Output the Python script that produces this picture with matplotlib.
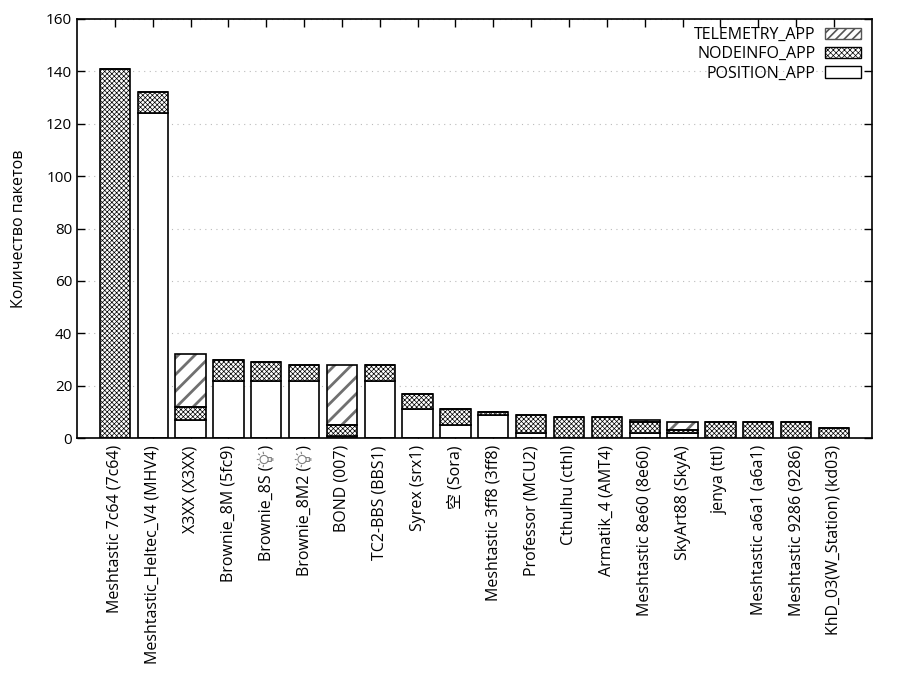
import numpy as np
import matplotlib
matplotlib.use("Agg")
import matplotlib.pyplot as plt
from matplotlib.patches import Patch
from matplotlib.lines import Line2D
from matplotlib.path import Path
from matplotlib.transforms import IdentityTransform, Affine2D

plt.rcParams['font.family'] = ['Open Sans', 'Noto Sans CJK SC', 'DejaVu Sans']
plt.rcParams['font.size'] = 11

BULB = "\u2003"  # placeholder; the light bulb sign is drawn as a shape below

# node names as shown on the x axis
names = ["Meshtastic 7c64 (7c64)", "Meshtastic_Heltec_V4 (MHV4)", "X3XX (X3XX)",
         "Brownie_8M (5fc9)", "Brownie_8S (" + BULB + ")", "Brownie_8M2 (" + BULB + ")",
         "BOND (007)", "TC2-BBS (BBS1)", "Syrex (srx1)", "空 (Sora)",
         "Meshtastic 3ff8 (3ff8)", "Professor (MCU2)", "Cthulhu (cthl)",
         "Armatik_4 (AMT4)", "Meshtastic 8e60 (8e60)", "SkyArt88 (SkyA)",
         "jenya (ttl)", "Meshtastic a6a1 (a6a1)", "Meshtastic 9286 (9286)",
         "KhD_03(W_Station) (kd03)"]
bulb_idx = [4, 5]

# packet counts per type (stacked bottom to top)
position = [0, 124, 7, 22, 22, 22, 1, 22, 11, 5, 9, 2, 0, 0, 2, 2, 0, 0, 0, 0]
nodeinfo = [141, 8, 5, 8, 7, 6, 4, 6, 6, 6, 1, 7, 8, 8, 4, 1, 6, 6, 6, 4]
telemetry = [0, 0, 20, 0, 0, 0, 23, 0, 0, 0, 0, 0, 0, 0, 1, 3, 0, 0, 0, 0]

x = np.arange(len(names))
pos = np.array(position)
node = np.array(nodeinfo)
tele = np.array(telemetry)
w = 0.8


def hatch_lw(artists, lw):
    """draw the given patches with their own hatch line width"""
    for a in artists:
        if hasattr(a, "set_hatch_linewidth"):
            a.set_hatch_linewidth(lw)
        orig = a.draw

        def draw(renderer, orig=orig):
            with plt.rc_context({'hatch.linewidth': lw}):
                orig(renderer)
        a.draw = draw


fig = plt.figure(figsize=(9, 7), dpi=100)
ax = fig.add_axes([0.0856, 0.374, 0.883, 0.599])

# POSITION: plain white boxes
ax.bar(x, pos, w, color='white', edgecolor='black', linewidth=1.2, zorder=2)

# NODEINFO: dense cross hatch
b2 = ax.bar(x, node, w, bottom=pos, color='white', edgecolor='black',
            hatch='xxxxxxx', linewidth=0, zorder=2)
hatch_lw(b2, 0.5)
ax.bar(x, node, w, bottom=pos, fill=False, edgecolor='black', linewidth=1.2, zorder=3)

# TELEMETRY: gray diagonal stripes
b3 = ax.bar(x, tele, w, bottom=pos + node, color='white', edgecolor='#707070',
            hatch='//', linewidth=0, zorder=2)
hatch_lw(b3, 2.0)
ax.bar(x, tele, w, bottom=pos + node, fill=False, edgecolor='black', linewidth=1.2, zorder=3)

ax.set_xlim(-1, 20)
ax.set_ylim(0, 160)
ax.set_yticks(np.arange(0, 161, 20))
ax.set_xticks(x)
ax.set_xticklabels(names, rotation=90, ha='center', va='top', fontsize=11.5)
ax.tick_params(direction='in', length=6, width=1, top=True, right=True,
               colors='black')
ax.tick_params(axis='y', labelsize=11)
ax.tick_params(axis='x', pad=5)
ax.set_axisbelow(True)
ax.yaxis.grid(True, linestyle=(0, (1, 4)), color='#bbbbbb', linewidth=0.8)
for s in ax.spines.values():
    s.set_linewidth(1.2)
    s.set_zorder(4)
ax.set_ylabel("Количество пакетов", fontsize=11.5, labelpad=14)

h_tele = Patch(facecolor='white', edgecolor='#555555', hatch='////', linewidth=1.0)
h_node = Patch(facecolor='white', edgecolor='black', hatch='xxxxxx', linewidth=1.0)
h_pos = Patch(facecolor='white', edgecolor='black', linewidth=1.0)
leg = ax.legend([h_tele, h_node, h_pos], ["TELEMETRY_APP", "NODEINFO_APP", "POSITION_APP"],
                loc='upper right', bbox_to_anchor=(1.0, 1.007), frameon=False,
                markerfirst=False, handlelength=2.2, handleheight=0.7,
                labelspacing=0.2, handletextpad=0.6, borderaxespad=0.3,
                borderpad=0.4, fontsize=11.5)
lp = leg.get_patches()
hatch_lw([lp[0]], 1.2)
hatch_lw(lp[1:], 0.5)

# light bulb sign, drawn as a shape (no installed font has it)
globe = Path.circle((0, 0.25), 0.42)
neck = Path([(-0.2, -0.12), (-0.2, -0.5), (0.2, -0.5), (0.2, -0.12)],
            [Path.MOVETO, Path.LINETO, Path.LINETO, Path.LINETO])
base = Path([(-0.15, -0.65), (0.15, -0.65)], [Path.MOVETO, Path.LINETO])
rays = Path([(0, 0.8), (0, 1.0), (-0.45, 0.68), (-0.6, 0.85), (0.45, 0.68), (0.6, 0.85),
             (-0.55, 0.3), (-0.8, 0.35), (0.55, 0.3), (0.8, 0.35)],
            [Path.MOVETO, Path.LINETO] * 5)
bulb = Path.make_compound_path(globe, neck, base, rays)
bulb = bulb.transformed(Affine2D().rotate_deg(90))

fig.canvas.draw()
renderer = fig.canvas.get_renderer()
labels = ax.get_xticklabels()
for i in bulb_idx:
    bb = labels[i].get_window_extent(renderer)
    cx = (bb.x0 + bb.x1) / 2
    cy = bb.y1 - 13.5
    fig.add_artist(Line2D([cx], [cy], transform=IdentityTransform(), marker=bulb,
                          markersize=14, markerfacecolor='none',
                          markeredgecolor='#808080', markeredgewidth=0.8,
                          linestyle='none'))

fig.savefig("out.png", dpi=100)
